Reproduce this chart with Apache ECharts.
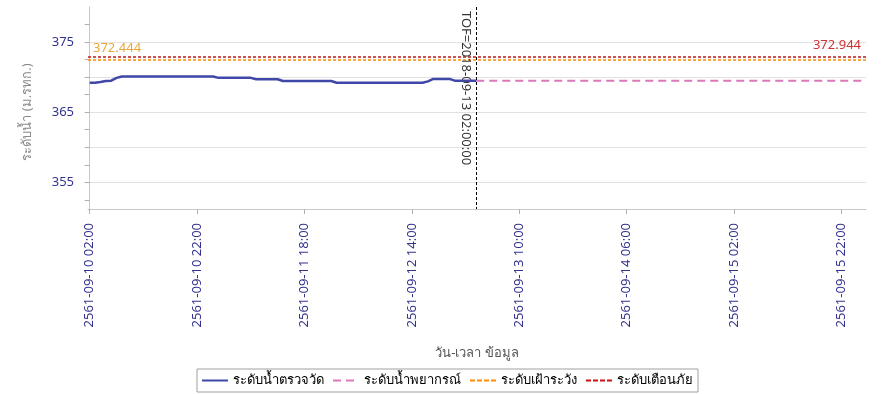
<!DOCTYPE html>
<html><head><meta charset="utf-8">
<script src="https://cdn.jsdelivr.net/npm/echarts@6/dist/echarts.min.js"></script>
<style>html,body{margin:0;padding:0;background:#fff}#c{width:882px;height:394px}</style>
</head><body><div id="c"></div>
<script>
// x = hours since 2561-09-10 02:00 (2018-09-10 02:00)
const tickHours = [0, 20, 40, 60, 80, 100, 120, 140];
const tickLabels = ['2561-09-10 02:00', '2561-09-10 22:00', '2561-09-11 18:00', '2561-09-12 14:00',
  '2561-09-13 10:00', '2561-09-14 06:00', '2561-09-15 02:00', '2561-09-15 22:00'];
const observedStartHour = 0;
const observed = [
  369.20, 369.20, 369.30, 369.45, 369.50, 369.90,
  370.10, 370.10, 370.10, 370.10, 370.10, 370.10, 370.10, 370.10, 370.10,
  370.10, 370.10, 370.10, 370.10, 370.10, 370.10, 370.10, 370.10, 370.10,
  369.90, 369.90, 369.90, 369.90, 369.90, 369.90, 369.90,
  369.70, 369.70, 369.70, 369.70, 369.70,
  369.45, 369.45, 369.45, 369.45, 369.45, 369.45, 369.45, 369.45, 369.45, 369.45,
  369.20, 369.20, 369.20, 369.20, 369.20, 369.20, 369.20, 369.20, 369.20,
  369.20, 369.20, 369.20, 369.20, 369.20, 369.20, 369.20, 369.20,
  369.40, 369.75, 369.75, 369.75, 369.75,
  369.50, 369.50, 369.50, 369.50, 369.50
];
const forecastStartHour = 72;
const forecast = [
  369.5, 369.5, 369.5, 369.5, 369.5, 369.5, 369.5, 369.5, 369.5, 369.5, 369.5, 369.5,
  369.5, 369.5, 369.5, 369.5, 369.5, 369.5, 369.5, 369.5, 369.5, 369.5, 369.5, 369.5,
  369.5, 369.5, 369.5, 369.5, 369.5, 369.5, 369.5, 369.5, 369.5, 369.5, 369.5, 369.5,
  369.5, 369.5, 369.5, 369.5, 369.5, 369.5, 369.5, 369.5, 369.5, 369.5, 369.5, 369.5,
  369.5, 369.5, 369.5, 369.5, 369.5, 369.5, 369.5, 369.5, 369.5, 369.5, 369.5, 369.5,
  369.5, 369.5, 369.5, 369.5, 369.5, 369.5, 369.5, 369.5, 369.5, 369.5, 369.5, 369.5,
  369.5
];
const warningLevel = 372.444;
const dangerLevel = 372.944;
const tofHour = 72;
const tofLabel = 'TOF=2018-09-13 02:00:00';
const yTicks = [352.5, 355, 357.5, 360, 362.5, 365, 367.5, 370, 372.5, 375, 377.5];
const yLabels = [355, 365, 375];
const yGrid = [355, 360, 365, 370, 375];
const seriesNames = ['ระดับน้ำตรวจวัด', 'ระดับน้ำพยากรณ์', 'ระดับเฝ้าระวัง', 'ระดับเตือนภัย'];
const yMin = 351.2, yMax = 380, xMin = -0.32, xMax = 144.6;

const FONT = "Tahoma, 'Noto Sans', 'DejaVu Sans', sans-serif";
const chart = echarts.init(document.getElementById('c'), null, {renderer: 'canvas'});
const obsData = observed.map((v, i) => [observedStartHour + i, v]);
const fcData = forecast.map((v, i) => [forecastStartHour + i, v]);

chart.setOption({
  animation: false,
  textStyle: {fontFamily: FONT},
  grid: {left: 88, right: 16, top: 7, bottom: 185},
  legend: {
    left: 197, top: 369, orient: 'horizontal',
    borderColor: '#a0a0a0', borderWidth: 1, padding: [5, 5, 5, 4],
    itemWidth: 26, itemHeight: 10, itemGap: 8,
    itemStyle: {opacity: 0},
    textStyle: {fontSize: 13, color: '#000', fontFamily: FONT},
    data: seriesNames
  },
  xAxis: {
    type: 'value', min: xMin, max: xMax,
    name: 'วัน-เวลา ข้อมูล', nameLocation: 'middle', nameGap: 138,
    nameTextStyle: {color: '#555', fontSize: 13},
    axisLine: {lineStyle: {color: '#c8c8c8'}},
    axisTick: {customValues: tickHours, length: 5, lineStyle: {color: '#b0b0b0'}},
    axisLabel: {customValues: tickHours, rotate: 90, margin: 14, color: '#33338f', fontSize: 13,
      formatter: v => tickLabels[tickHours.indexOf(v)]},
    splitLine: {show: false}
  },
  yAxis: [{
    type: 'value', min: yMin, max: yMax,
    name: 'ระดับน้ำ (ม.รทก.)', nameLocation: 'middle', nameGap: 54,
    nameTextStyle: {color: '#8a8a8a', fontSize: 13, padding: [0, 0, 0, -8]},
    axisLine: {show: true, lineStyle: {color: '#c8c8c8'}},
    axisTick: {show: true, customValues: yTicks, length: 5, lineStyle: {color: '#b0b0b0'}},
    axisLabel: {customValues: yLabels, margin: 14, color: '#33338f', fontSize: 13},
    splitLine: {show: false}
  }, {
    type: 'value', min: yMin, max: yMax, position: 'left',
    axisLine: {show: false},
    axisTick: {show: false, customValues: yGrid},
    axisLabel: {show: false, customValues: yGrid},
    splitLine: {show: true, lineStyle: {color: '#e2e2e2'}}
  }],
  series: [{
    name: seriesNames[0], type: 'line', data: obsData, symbol: 'none',
    color: '#3f48a8', lineStyle: {width: 2.5, color: '#3f48a8'}, z: 5,
    markLine: {
      silent: true, symbol: 'none',
      lineStyle: {color: '#000', type: [3, 2], width: 1},
      label: {show: true, position: 'insideStartBottom', formatter: tofLabel,
        color: '#333', fontSize: 13, distance: 4},
      data: [[{coord: [tofHour, yMax]}, {coord: [tofHour, yMin]}]]
    }
  }, {
    name: seriesNames[1], type: 'line', data: fcData, symbol: 'none',
    color: '#dd77bb', lineStyle: {width: 2, type: [8, 5], color: '#dd77bb'}, z: 4
  }, {
    name: seriesNames[2], type: 'line', data: [], symbol: 'none',
    color: '#ff8c00', lineStyle: {width: 2, type: [5, 2], color: '#ff8c00'},
    markLine: {
      silent: true, symbol: 'none',
      lineStyle: {color: '#ff8c00', type: [3, 2], width: 1.5},
      label: {show: true, position: 'insideStartTop', formatter: String(warningLevel),
        color: '#e8a838', fontSize: 13, distance: 5},
      data: [{yAxis: warningLevel}]
    }
  }, {
    name: seriesNames[3], type: 'line', data: [], symbol: 'none',
    color: '#cc1111', lineStyle: {width: 2, type: [5, 2], color: '#cc1111'},
    markLine: {
      silent: true, symbol: 'none',
      lineStyle: {color: '#c01818', type: [3, 2], width: 1.5},
      label: {show: true, position: 'insideEndTop', formatter: String(dangerLevel),
        color: '#cc3333', fontSize: 13, distance: 5},
      data: [{yAxis: dangerLevel}]
    }
  }]
});
</script></body></html>
